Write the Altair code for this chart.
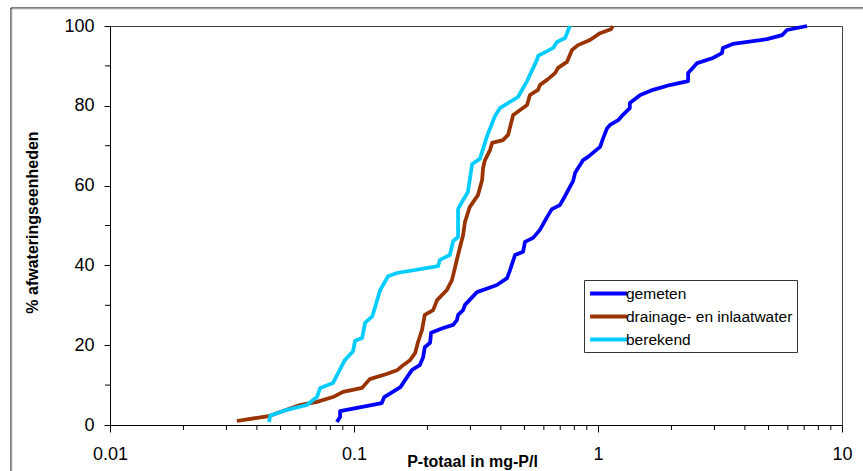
import altair as alt
import pandas as pd

# ---- data ----
series_names = ["gemeten", "drainage- en inlaatwater", "berekend"]
series_colors = ["#0000FF", "#993300", "#00CCFF"]

gemeten_x = [0.0851, 0.0877, 0.0877, 0.130, 0.133, 0.155, 0.165, 0.173, 0.186, 0.192,
             0.195, 0.205, 0.207, 0.232, 0.255, 0.264, 0.267, 0.280, 0.285, 0.319,
             0.354, 0.385, 0.424, 0.436, 0.457, 0.493, 0.502, 0.542, 0.578, 0.618,
             0.647, 0.698, 0.733, 0.791, 0.806, 0.869, 0.910, 1.02, 1.05, 1.09,
             1.12, 1.21, 1.25, 1.35, 1.35, 1.49, 1.68, 1.97, 2.34, 2.34,
             2.55, 2.96, 3.22, 3.25, 3.57, 4.93, 5.68, 5.95, 7.19]
gemeten_y = [0.75, 2.0, 3.5, 5.5, 7.0, 9.5, 12.0, 13.8, 15.0, 17.0,
             19.5, 20.6, 23.1, 24.3, 25.1, 26.3, 27.6, 28.8, 30.1, 33.3,
             34.3, 35.1, 36.8, 38.8, 42.6, 43.4, 45.9, 46.9, 48.9, 52.1,
             54.1, 55.1, 57.4, 61.2, 63.2, 66.4, 67.2, 69.7, 71.9, 74.4,
             75.2, 76.4, 77.4, 79.4, 80.7, 82.7, 84.0, 85.2, 86.2, 88.2,
             90.7, 92.0, 93.2, 94.5, 95.5, 96.7, 97.7, 99.0, 100.0]

drainage_x = [0.0331, 0.0453, 0.0512, 0.0601, 0.0705, 0.0820, 0.0902, 0.108, 0.116, 0.136,
              0.151, 0.159, 0.170, 0.178, 0.183, 0.190, 0.195, 0.211, 0.219, 0.240,
              0.252, 0.259, 0.264, 0.272, 0.280, 0.285, 0.298, 0.322, 0.335, 0.338,
              0.344, 0.361, 0.368, 0.408, 0.428, 0.449, 0.466, 0.512, 0.526, 0.568,
              0.578, 0.618, 0.667, 0.686, 0.746, 0.782, 0.828, 0.927, 1.02, 1.13, 1.15]
drainage_y = [1.0, 2.3, 3.5, 5.0, 5.8, 7.0, 8.3, 9.3, 11.5, 12.8,
              13.8, 15.0, 16.3, 18.0, 20.8, 23.8, 27.6, 28.8, 31.3, 33.8,
              36.3, 39.3, 41.4, 44.6, 47.6, 50.9, 54.6, 57.6, 61.4, 64.4,
              66.4, 68.9, 70.7, 71.4, 72.7, 77.7, 78.4, 80.2, 82.7, 84.0,
              85.2, 86.5, 88.2, 89.5, 91.0, 94.0, 95.2, 96.5, 98.2, 99.2, 100.0]

berekend_x = [0.0449, 0.0453, 0.0531, 0.0641, 0.0705, 0.0727, 0.0820, 0.0877, 0.0918, 0.0991,
              0.101, 0.108, 0.111, 0.119, 0.128, 0.133, 0.138, 0.150, 0.221, 0.225,
              0.247, 0.255, 0.267, 0.267, 0.280, 0.293, 0.305, 0.328, 0.344, 0.351,
              0.378, 0.396, 0.470, 0.512, 0.562, 0.568, 0.655, 0.679, 0.733, 0.767]
berekend_y = [0.75, 2.3, 3.8, 5.0, 7.0, 9.3, 10.5, 14.0, 16.3, 18.5,
              21.1, 21.8, 25.6, 27.3, 33.8, 35.6, 37.3, 38.1, 39.8, 41.4,
              42.6, 46.1, 47.1, 54.1, 56.4, 58.4, 65.4, 66.7, 70.7, 72.4,
              77.4, 79.4, 82.2, 86.2, 91.5, 92.5, 94.5, 96.0, 97.0, 100.0]

x_major_ticks = [0.01, 0.1, 1, 10]
x_minor_ticks = [0.02, 0.03, 0.04, 0.05, 0.06, 0.07, 0.08, 0.09,
                 0.2, 0.3, 0.4, 0.5, 0.6, 0.7, 0.8, 0.9,
                 2, 3, 4, 5, 6, 7, 8, 9]
y_major_ticks = [0, 20, 40, 60, 80, 100]
y_minor_ticks = [10, 30, 50, 70, 90]

# ---- build table ----
rows = []
for name, xs, ys in [(series_names[0], gemeten_x, gemeten_y),
                     (series_names[1], drainage_x, drainage_y),
                     (series_names[2], berekend_x, berekend_y)]:
    for i, (xv, yv) in enumerate(zip(xs, ys)):
        rows.append({"serie": name, "p": xv, "pct": yv, "idx": i})
df = pd.DataFrame(rows)

FONT = "Liberation Sans"
W, H = 732, 399

xscale = alt.Scale(type="log", domain=[0.01, 10], nice=False)
yscale = alt.Scale(domain=[0, 100], nice=False)

lines = alt.Chart(df).mark_line(strokeWidth=3.75, strokeJoin="round").encode(
    x=alt.X("p:Q", scale=xscale,
            axis=alt.Axis(values=x_major_ticks, format="~g", title="P-totaal in mg-P/l",
                          grid=False, tickSize=7, tickColor="black", domainColor="black",
                          labelFontSize=18, labelFont=FONT, labelColor="black",
                          labelBaseline="middle", labelPadding=22, labelFlush=False,
                          titleFont=FONT, titleFontSize=16, titleFontWeight="bold",
                          titleColor="black", titleX=362, titleY=36,
                          titleBaseline="middle", titleAlign="center")),
    y=alt.Y("pct:Q", scale=yscale,
            axis=alt.Axis(values=y_major_ticks, title="% afwateringseenheden",
                          grid=False, tickSize=6, tickColor="black", domainColor="black",
                          labelFontSize=18, labelFont=FONT, labelColor="black",
                          labelPadding=10,
                          titleFont=FONT, titleFontSize=16, titleFontWeight="bold",
                          titleColor="black", titleX=-78, titleY=196,
                          titleBaseline="middle", titleAlign="center", titleAngle=270)),
    color=alt.Color("serie:N",
                    scale=alt.Scale(domain=series_names, range=series_colors),
                    sort=series_names,
                    legend=alt.Legend(title=None, orient="none", legendX=474, legendY=254,
                                      strokeColor="#333333", fillColor="white", padding=4,
                                      symbolType="M-1,0H4", symbolSize=219,
                                      symbolStrokeWidth=4, labelOffset=19, rowPadding=5,
                                      labelLimit=400,
                                      labelFont=FONT, labelFontSize=15.5, labelColor="black")),
    order="idx:Q",
)

xminor = alt.Chart(pd.DataFrame({"t": x_minor_ticks})).mark_rule(color="black", strokeWidth=1).encode(
    x=alt.X("t:Q", scale=xscale), y=alt.value(H), y2=alt.value(H + 5))

yminor = alt.Chart(pd.DataFrame({"t": y_minor_ticks})).mark_rule(color="black", strokeWidth=1).encode(
    y=alt.Y("t:Q", scale=yscale), x=alt.value(-5), x2=alt.value(0))

frame_df = pd.DataFrame({"f": [0]})
frame_left = alt.Chart(frame_df).mark_rule(color="black", strokeWidth=1).encode(
    x=alt.value(-99), y=alt.value(-18), y2=alt.value(460))
frame_left2 = alt.Chart(frame_df).mark_rule(color="#c8c8c8", strokeWidth=1).encode(
    x=alt.value(-98), y=alt.value(-17), y2=alt.value(460))
frame_top = alt.Chart(frame_df).mark_rule(color="black", strokeWidth=1).encode(
    y=alt.value(-18), x=alt.value(-99), x2=alt.value(770))
frame_top2 = alt.Chart(frame_df).mark_rule(color="#c8c8c8", strokeWidth=1).encode(
    y=alt.value(-17), x=alt.value(-98), x2=alt.value(770))

chart = alt.layer(frame_left, frame_left2, frame_top, frame_top2, xminor, yminor, lines).properties(
    width=W, height=H,
    autosize=alt.AutoSizeParams(type="none"),
    padding={"left": 110, "top": 26, "right": 21, "bottom": 46},
    background="white",
).configure_view(stroke="#404040", strokeWidth=1)

chart.save("out.html", embed_options={"renderer": "svg", "actions": False})
